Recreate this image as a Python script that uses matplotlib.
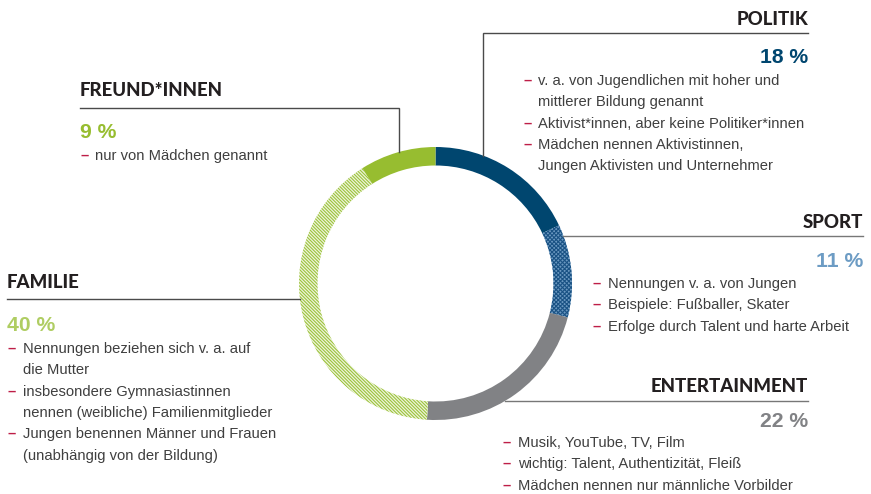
import matplotlib
matplotlib.use("Agg")
import matplotlib.pyplot as plt
import numpy as np

# ---- data -------------------------------------------------------------
categories = ["POLITIK", "SPORT", "ENTERTAINMENT", "FAMILIE", "FREUND*INNEN"]
shares = [18, 11, 22, 40, 9]
pct_labels = [f"{v} %" for v in shares]
notes_politik = ["v. a. von Jugendlichen mit hoher und\nmittlerer Bildung genannt",
                 "Aktivist*innen, aber keine Politiker*innen",
                 "Mädchen nennen Aktivistinnen,\nJungen Aktivisten und Unternehmer"]
notes_sport = ["Nennungen v. a. von Jungen",
               "Beispiele: Fußballer, Skater",
               "Erfolge durch Talent und harte Arbeit"]
notes_entertainment = ["Musik, YouTube, TV, Film",
                       "wichtig: Talent, Authentizität, Fleiß",
                       "Mädchen nennen nur männliche Vorbilder"]
notes_familie = ["Nennungen beziehen sich v. a. auf\ndie Mutter",
                 "insbesondere Gymnasiastinnen\nnennen (weibliche) Familienmitglieder",
                 "Jungen benennen Männer und Frauen\n(unabhängig von der Bildung)"]
notes_freunde = ["nur von Mädchen genannt"]
notes = [notes_politik, notes_sport, notes_entertainment, notes_familie, notes_freunde]

# ---- styles -----------------------------------------------------------
W, H = 871, 494
CX, CY, R, RW = 435.5, 283.5, 136.5, 18.5
HEAD_COLOR = "#231f20"
BODY_COLOR = "#3f3f3f"
DASH_COLOR = "#be1e47"
LINE_COLOR = "#4a4a4a"

wedge_styles = [
    dict(facecolor="#00466f", edgecolor="#00466f", hatch=None),
    dict(facecolor="#6a98c0", edgecolor="#1a5284", hatch="xxxxxxxx"),
    dict(facecolor="#818285", edgecolor="#818285", hatch=None),
    dict(facecolor="#eef5dc", edgecolor="#9dc23c", hatch="\\" * 10),
    dict(facecolor="#97bd30", edgecolor="#97bd30", hatch=None),
]
pct_colors = ["#00466f", "#6d9cc4", "#818285", "#afcd62", "#97bd30"]

# label blocks: anchor x, alignment, heading baseline, percent baseline,
# dash x, text x, first body baseline
blocks = [
    dict(x=808, ha="right", head_y=25, pct_y=63, dash_x=523, text_x=538, body_y=85),
    dict(x=863, ha="right", head_y=228, pct_y=267, dash_x=592, text_x=608, body_y=288),
    dict(x=808, ha="right", head_y=392, pct_y=427, dash_x=502, text_x=518, body_y=447),
    dict(x=7, ha="left", head_y=288, pct_y=331, dash_x=7, text_x=23, body_y=353),
    dict(x=80, ha="left", head_y=96, pct_y=138, dash_x=80, text_x=95, body_y=160),
]
LINE_STEP = 21.3

HEAD_FONT = dict(family=["Lato", "DejaVu Sans"], fontweight="black", fontsize=13.4)
PCT_FONT = dict(family=["Liberation Sans", "DejaVu Sans"],
                fontweight="bold", fontsize=15.2)
BODY_FONT = dict(family=["Liberation Sans", "DejaVu Sans"], fontsize=10.6)
DASH_FONT = dict(family=["Liberation Sans", "DejaVu Sans"], fontsize=10.6,
                 fontweight="bold")

plt.rcParams["hatch.linewidth"] = 0.8

fig = plt.figure(figsize=(W / 100, H / 100), dpi=100)
ax = fig.add_axes([0, 0, 1, 1])
ax.set_xlim(0, W)
ax.set_ylim(H, 0)
ax.axis("off")

# ---- donut ring (clockwise from 12 o'clock on the inverted y axis) ----
wedges, _ = ax.pie(shares, center=(CX, CY), radius=R, startangle=-90,
                   counterclock=True, wedgeprops=dict(width=RW, linewidth=0))
for w, st in zip(wedges, wedge_styles):
    w.set_facecolor(st["facecolor"])
    w.set_edgecolor(st["edgecolor"])
    if st["hatch"]:
        w.set_hatch(st["hatch"])
    w.set_linewidth(0)
ax.set_xlim(0, W)
ax.set_ylim(H, 0)
ax.set_aspect("auto")


def ring_y(x):
    """Upper/lower y where a vertical line at x meets the outer ring edge."""
    d = np.sqrt(R ** 2 - (x - CX) ** 2)
    return CY - d, CY + d


def ring_x(y, side):
    d = np.sqrt(R ** 2 - (y - CY) ** 2)
    return CX + d if side > 0 else CX - d


# ---- leader lines ------------------------------------------------------
lw = 1.0
# Politik: horizontal over the heading row, then down to the ring
ax.plot([808, 483, 483], [33, 33, ring_y(483)[0]], color=LINE_COLOR, lw=lw,
        solid_joinstyle="miter")
# Freund*innen
ax.plot([80, 399, 399], [108, 108, ring_y(399)[0]], color=LINE_COLOR, lw=lw,
        solid_joinstyle="miter")
# Sport
ax.plot([ring_x(236, 1), 863], [236, 236], color="#777777", lw=lw)
# Entertainment
ax.plot([ring_x(401, 1), 808], [401, 401], color="#777777", lw=lw)
# Familie
ax.plot([7, ring_x(299, -1)], [299, 299], color=LINE_COLOR, lw=lw)

# ---- labels ------------------------------------------------------------
for cat, lab, col, blk, items in zip(categories, pct_labels, pct_colors, blocks, notes):
    ax.text(blk["x"], blk["head_y"], cat, ha=blk["ha"], va="baseline",
            color=HEAD_COLOR, **HEAD_FONT)
    ax.text(blk["x"], blk["pct_y"], lab, ha=blk["ha"], va="baseline",
            color=col, **PCT_FONT)
    y = blk["body_y"]
    for item in items:
        ax.text(blk["dash_x"], round(y), "–", ha="left", va="baseline",
                color=DASH_COLOR, **DASH_FONT)
        for line in item.split("\n"):
            ax.text(blk["text_x"], round(y), line, ha="left", va="baseline",
                    color=BODY_COLOR, **BODY_FONT)
            y += LINE_STEP

fig.savefig("out.png", dpi=100)
